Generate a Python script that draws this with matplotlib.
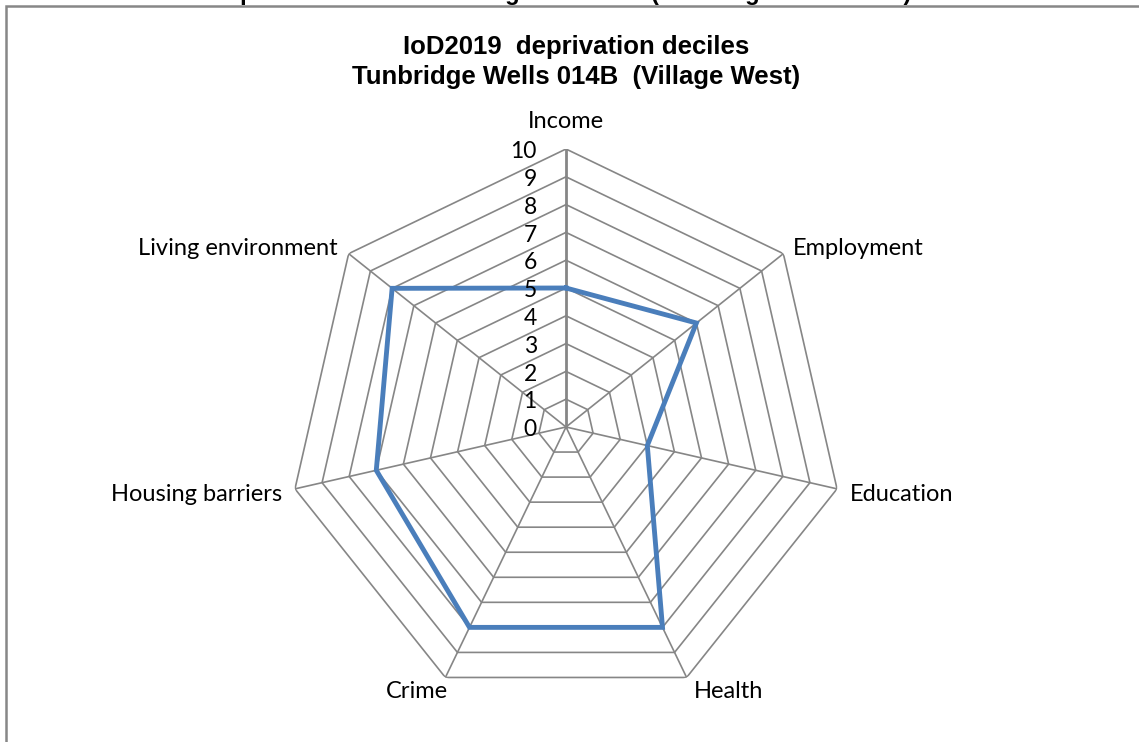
import matplotlib.pyplot as plt
import matplotlib.patches as mpatches
import numpy as np

# IoD2019 deprivation deciles (1 = most deprived, 10 = least deprived)
domains = ['Income', 'Employment', 'Education', 'Health', 'Crime',
           'Housing barriers', 'Living environment']
deciles = [5, 6, 3, 8, 8, 7, 8]
levels = list(range(0, 11))

title = 'IoD2019  deprivation deciles\nTunbridge Wells 014B  (Village West)'
page_title = 'Deprivation deciles for neighbourhood (Tunbridge Wells 014B)'

W, H = 1139, 742
fig = plt.figure(figsize=(W / 100, H / 100), dpi=100)

# chart frame (extends past the right and bottom edges, as in the source)
fig.patches.append(mpatches.Rectangle((6 / W, -0.05), 1.1, 1 - 6 / H + 0.05,
                                      transform=fig.transFigure, fill=False,
                                      edgecolor='#878787', linewidth=1.8))
# heading of the page above the chart, mostly cut off
fig.text(210 / W, 1.0, page_title, ha='left', va='baseline',
         fontsize=17, fontweight='bold', family='Liberation Sans')

# polar axes centred at (566, 427) px with radius 278 px
cx, cy, R = 566, H - 427, 278
ax = fig.add_axes([(cx - R) / W, (cy - R) / H, 2 * R / W, 2 * R / H],
                  projection='polar')
ax.set_theta_zero_location('N')
ax.set_theta_direction(-1)
ax.set_ylim(0, 10)
ax.grid(False)
ax.spines['polar'].set_visible(False)
ax.set_xticks([])
ax.set_yticks([])
ax.patch.set_alpha(0)

n = len(domains)
theta = np.arange(n) * 2 * np.pi / n
theta_closed = np.append(theta, theta[0])

grid_col = '#868686'
for lv in levels[1:]:
    ax.plot(theta_closed, [lv] * (n + 1), color=grid_col, lw=1.2, zorder=1)
for i, t in enumerate(theta):
    ax.plot([t, t], [0, 10], color=grid_col, lw=2.0 if i == 0 else 1.2, zorder=1)

vals = deciles + [deciles[0]]
ax.plot(theta_closed, vals, color='#4A7EBB', lw=3.5, zorder=3,
        solid_joinstyle='miter')

label_font = dict(family='Lato', fontsize=17, color='black')

# radial value labels along the Income axis
for lv in levels:
    ax.annotate(str(lv), xy=(0, lv), xytext=(-21, -2), textcoords='offset points',
                ha='right', va='center', family='Lato', fontsize=16.5)

# category labels
offsets = [(0, 20, 'center', 'center'),
           (7, 4, 'left', 'center'),
           (9, -4, 'left', 'center'),
           (5, -10, 'left', 'center'),
           (2, -10, 'right', 'center'),
           (-9, -4, 'right', 'center'),
           (-8, 4, 'right', 'center')]
for t, name, (dx, dy, ha, va) in zip(theta, domains, offsets):
    ax.annotate(name, xy=(t, 10), xytext=(dx, dy), textcoords='offset points',
                ha=ha, va=va, annotation_clip=False, **label_font)

fig.text(576 / W, 1 - 62 / H, title, ha='center', va='center',
         fontsize=18.5, fontweight='bold', family='Liberation Sans',
         linespacing=1.33)

fig.savefig('out.png', dpi=100)
